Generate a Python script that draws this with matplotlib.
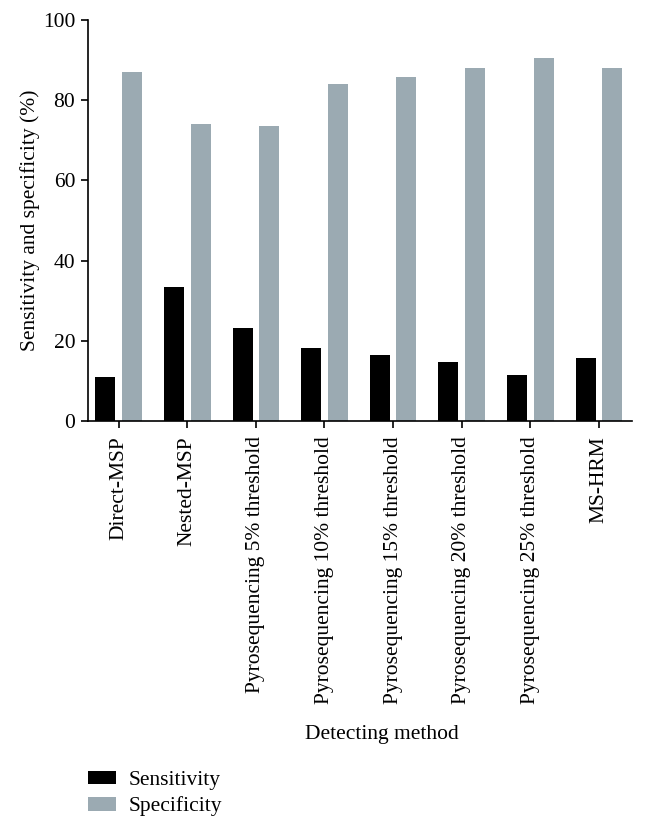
import numpy as np
import matplotlib
matplotlib.use('Agg')
import matplotlib.pyplot as plt

# Values
methods = ['Direct-MSP', 'Nested-MSP',
           'Pyrosequencing 5% threshold', 'Pyrosequencing 10% threshold',
           'Pyrosequencing 15% threshold', 'Pyrosequencing 20% threshold',
           'Pyrosequencing 25% threshold', 'MS-HRM']
sensitivity = [11.0, 33.5, 23.1, 18.2, 16.4, 14.8, 11.4, 15.7]
specificity = [86.9, 74.0, 73.5, 84.0, 85.7, 88.0, 90.5, 88.0]
y_ticks = [0, 20, 40, 60, 80, 100]

plt.rcParams['font.family'] = ['Liberation Serif', 'DejaVu Serif']
fs = 15.5

fig = plt.figure(figsize=(6.46, 8.31), dpi=100)
ax = fig.add_axes([0.136, 0.4934, 0.842, 0.4826])

x = np.arange(len(methods))
w = 0.29
ax.bar(x - 0.194, sensitivity, w, color='black', label='Sensitivity')
ax.bar(x + 0.194, specificity, w, color='#9baab2', label='Specificity')

ax.set_xlim(-0.45, 7.48)
ax.set_ylim(0, 100)
ax.set_yticks(y_ticks)
ax.set_xticks(x)
ax.set_xticklabels(methods, rotation=90, fontsize=fs)
ax.tick_params(axis='y', labelsize=fs, length=5, width=1.2, direction='out', pad=4)
ax.tick_params(axis='x', length=5, width=1.2, direction='out', pad=6)

for s in ['top', 'right']:
    ax.spines[s].set_visible(False)
for s in ['left', 'bottom']:
    ax.spines[s].set_linewidth(1.2)

ax.set_ylabel('Sensitivity and specificity (%)', fontsize=fs, labelpad=2)
fig.text(0.591, 0.116, 'Detecting method', fontsize=fs, ha='center', va='center')

fig.legend(loc='upper left', bbox_to_anchor=(0.123, 0.083), frameon=False,
           fontsize=fs, handlelength=1.3, handleheight=0.6, labelspacing=0.3,
           handletextpad=0.6, borderaxespad=0)

fig.savefig('out.png', dpi=100)
